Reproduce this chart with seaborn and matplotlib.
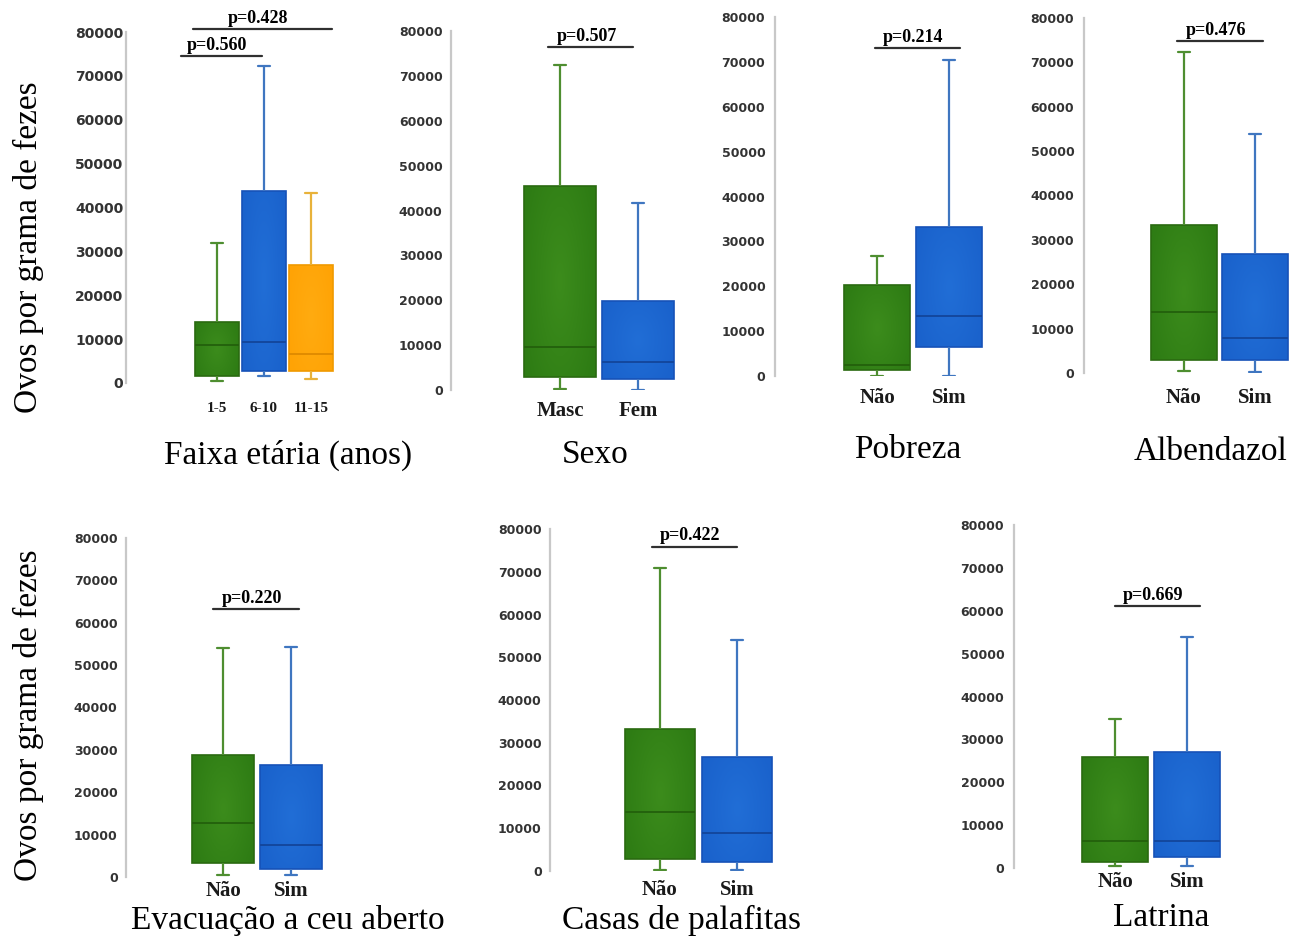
import numpy as np
import pandas as pd
import matplotlib
matplotlib.use('Agg')
import matplotlib.pyplot as plt
import matplotlib.colors as mcolors
import seaborn as sns

# cinco números de cada grupo: mínimo, Q1, mediana, Q3, máximo
faixa_grupos = ['1-5', '6-10', '11-15']
faixa_1_5 = [500, 1700, 8600, 13800, 32000]
faixa_6_10 = [1700, 2800, 9300, 43800, 72200]
faixa_11_15 = [800, 2700, 6700, 27000, 43300]

sexo_grupos = ['Masc', 'Fem']
sexo_masc = [150, 3000, 9500, 45500, 72400]
sexo_fem = [0, 2500, 6300, 19800, 41700]

nao_sim = ['Não', 'Sim']
pobreza_nao = [0, 1300, 2500, 20200, 26800]
pobreza_sim = [0, 6500, 13300, 33200, 70500]

albendazol_nao = [500, 2900, 13700, 33400, 72300]
albendazol_sim = [200, 2900, 7900, 26900, 53900]

evacuacao_nao = [400, 3200, 12800, 28800, 54000]
evacuacao_sim = [400, 2000, 7600, 26400, 54300]

palafitas_nao = [150, 2700, 13800, 33200, 70900]
palafitas_sim = [150, 2100, 9000, 26700, 54100]

latrina_nao = [500, 1400, 6400, 26000, 34700]
latrina_sim = [500, 2500, 6400, 27000, 53800]

titulos = ['Faixa etária (anos)', 'Sexo', 'Pobreza', 'Albendazol',
           'Evacuação a ceu aberto', 'Casas de palafitas', 'Latrina']
p_faixa = ['p=0.428', 'p=0.560']
p_outros = ['p=0.507', 'p=0.214', 'p=0.476', 'p=0.220', 'p=0.422', 'p=0.669']

paineis = [
    (faixa_grupos, [faixa_1_5, faixa_6_10, faixa_11_15], p_faixa),
    (sexo_grupos, [sexo_masc, sexo_fem], [p_outros[0]]),
    (nao_sim, [pobreza_nao, pobreza_sim], [p_outros[1]]),
    (nao_sim, [albendazol_nao, albendazol_sim], [p_outros[2]]),
    (nao_sim, [evacuacao_nao, evacuacao_sim], [p_outros[3]]),
    (nao_sim, [palafitas_nao, palafitas_sim], [p_outros[4]]),
    (nao_sim, [latrina_nao, latrina_sim], [p_outros[5]]),
]

# posições em pixels: eixo, 1º centro, passo, topo, base, pad do tick, fonte das categorias,
# deslocamento das categorias, titulo (x, y), colchetes (x0, x1, y)
layout = [
    dict(spine=126, c0=217, step=47, top=32, bot=383, ypad=2, yfs=10, cfs=11, cdy=25,
         tit=(288, 455), br=[(-0.51, 2.45, 80700), (-0.77, 0.96, 74600)]),
    dict(spine=451, c0=560, step=78, top=31, bot=390, ypad=6, yfs=9, cfs=15, cdy=21,
         tit=(595, 455), br=[(-0.15, 0.94, 76500)]),
    dict(spine=775, c0=877, step=72, top=17, bot=376, ypad=7, yfs=9, cfs=15, cdy=22,
         tit=(908, 450), br=[(-0.03, 1.15, 73100)]),
    dict(spine=1084, c0=1184, step=71, top=18, bot=373, ypad=7, yfs=9, cfs=15, cdy=25,
         tit=(1211, 452), br=[(-0.1, 1.11, 74900)]),
    dict(spine=126, c0=223, step=68, top=538, bot=877, ypad=6, yfs=9, cfs=15, cdy=14,
         tit=(288, 920), br=[(-0.15, 1.12, 63300)]),
    dict(spine=550, c0=660, step=77, top=529, bot=871, ypad=6, yfs=9, cfs=15, cdy=19,
         tit=(681, 920), br=[(-0.1, 1.0, 75900)]),
    dict(spine=1014, c0=1115, step=72, top=525, bot=868, ypad=7, yfs=9, cfs=15, cdy=14,
         tit=(1161, 918), br=[(0.0, 1.18, 61200)]),
]

cores_caixa = ['#2e7c14', '#1a62cc', '#ffa305']
cores_centro = ['#3c8c1c', '#216ed6', '#ffab10']
cores_borda = ['#2a6a10', '#1652b8', '#f09a00']
cores_bigode = ['#4e8e30', '#3f76c0', '#e8b23a']
cores_mediana = ['#23600c', '#13459a', '#de8a00']

# gradiente: mais claro no centro da caixa
gx, gy = np.meshgrid(np.linspace(-1, 1, 60), np.linspace(-1, 1, 120))
raio = np.clip(np.sqrt(gx ** 2 * 0.8 + gy ** 2 * 0.4), 0, 1)[..., None]

W, H = 1303, 940
sns.set_style('white')
fig = plt.figure(figsize=(W / 100, H / 100), dpi=100)

for k, ((grupos, series, pvals), lay) in enumerate(zip(paineis, layout)):
    n = len(grupos)
    right = lay['c0'] + lay['step'] * (n - 0.4)
    ax = fig.add_axes([lay['spine'] / W, 1 - lay['bot'] / H,
                       (right - lay['spine']) / W, (lay['bot'] - lay['top']) / H])
    df = pd.DataFrame({'grupo': [g for g, s in zip(grupos, series) for _ in s],
                       'ovos': [v for s in series for v in s]})
    sns.boxplot(data=df, x='grupo', y='ovos', hue='grupo', order=grupos, hue_order=grupos,
                palette=cores_caixa[:n], saturation=1, whis=(0, 100), width=0.92,
                linewidth=1.3, fliersize=0, legend=False, ax=ax)

    capw = 6 / lay['step']
    for i, cont in enumerate(ax.containers):
        for b in cont.boxes:
            b.set_edgecolor(cores_borda[i])
            b.set_linewidth(1.2)
            ext = b.get_path().get_extents()
            c_mid = np.array(mcolors.to_rgb(cores_centro[i]))
            c_out = np.array(mcolors.to_rgb(cores_caixa[i]))
            img = c_mid * (1 - raio) + c_out * raio
            im = ax.imshow(img, extent=[ext.x0, ext.x1, ext.y0, ext.y1], origin='lower',
                           aspect='auto', zorder=b.get_zorder() - 0.01, interpolation='bilinear')
            im.set_clip_path(b)
            b.set_facecolor('none')
        for w in cont.whiskers:
            w.set_color(cores_bigode[i])
            w.set_linewidth(1.6)
        for c in cont.caps:
            c.set_color(cores_bigode[i])
            c.set_linewidth(1.6)
            c.set_xdata([i - capw, i + capw])
        for m in cont.medians:
            m.set_color(cores_mediana[i])
            m.set_linewidth(1.3)

    ax.set_xlim(-(lay['c0'] - lay['spine']) / lay['step'], (right - lay['c0']) / lay['step'])
    ax.set_ylim(0, 80000)
    ax.set_yticks(range(0, 80001, 10000))
    ax.set_yticklabels([str(v) for v in range(0, 80001, 10000)],
                       fontsize=lay['yfs'], fontweight='bold', color='#333333')
    ax.tick_params(axis='y', length=0, pad=lay['ypad'])
    ax.set_xticks([])
    ax.set_xlabel('')
    ax.set_ylabel('')
    for s in ['top', 'right', 'bottom']:
        ax.spines[s].set_visible(False)
    ax.spines['left'].set_color('#c8c8c8')
    ax.spines['left'].set_linewidth(1.6)
    ax.patch.set_alpha(0)

    for i, g in enumerate(grupos):
        ax.annotate(g, xy=(i, 0), xycoords=('data', 'axes fraction'),
                    xytext=(0, -lay['cdy'] * 0.72), textcoords='offset points',
                    ha='center', va='center', fontsize=lay['cfs'], fontweight='bold',
                    family='Liberation Serif', color='#1a1a1a')

    for (x0, x1, y), p in zip(lay['br'], pvals):
        ax.plot([x0, x1], [y, y], color='#303030', lw=1.6, clip_on=False)
        ax.annotate(p, xy=((x0 + x1) / 2, y), xytext=(-3, 1.5), textcoords='offset points',
                    ha='center', va='bottom', fontsize=13, fontweight='bold',
                    family='Liberation Serif', color='black', annotation_clip=False)

    fig.text(lay['tit'][0] / W, 1 - lay['tit'][1] / H, titulos[k],
             ha='center', va='center', fontsize=24, family='Liberation Serif', color='black')

for yc in (247, 715):
    fig.text(28 / W, 1 - yc / H, 'Ovos por grama de fezes', rotation=90, ha='center',
             va='center', fontsize=24, family='Liberation Serif', color='black')

fig.savefig('out.png', dpi=100, facecolor='white')
